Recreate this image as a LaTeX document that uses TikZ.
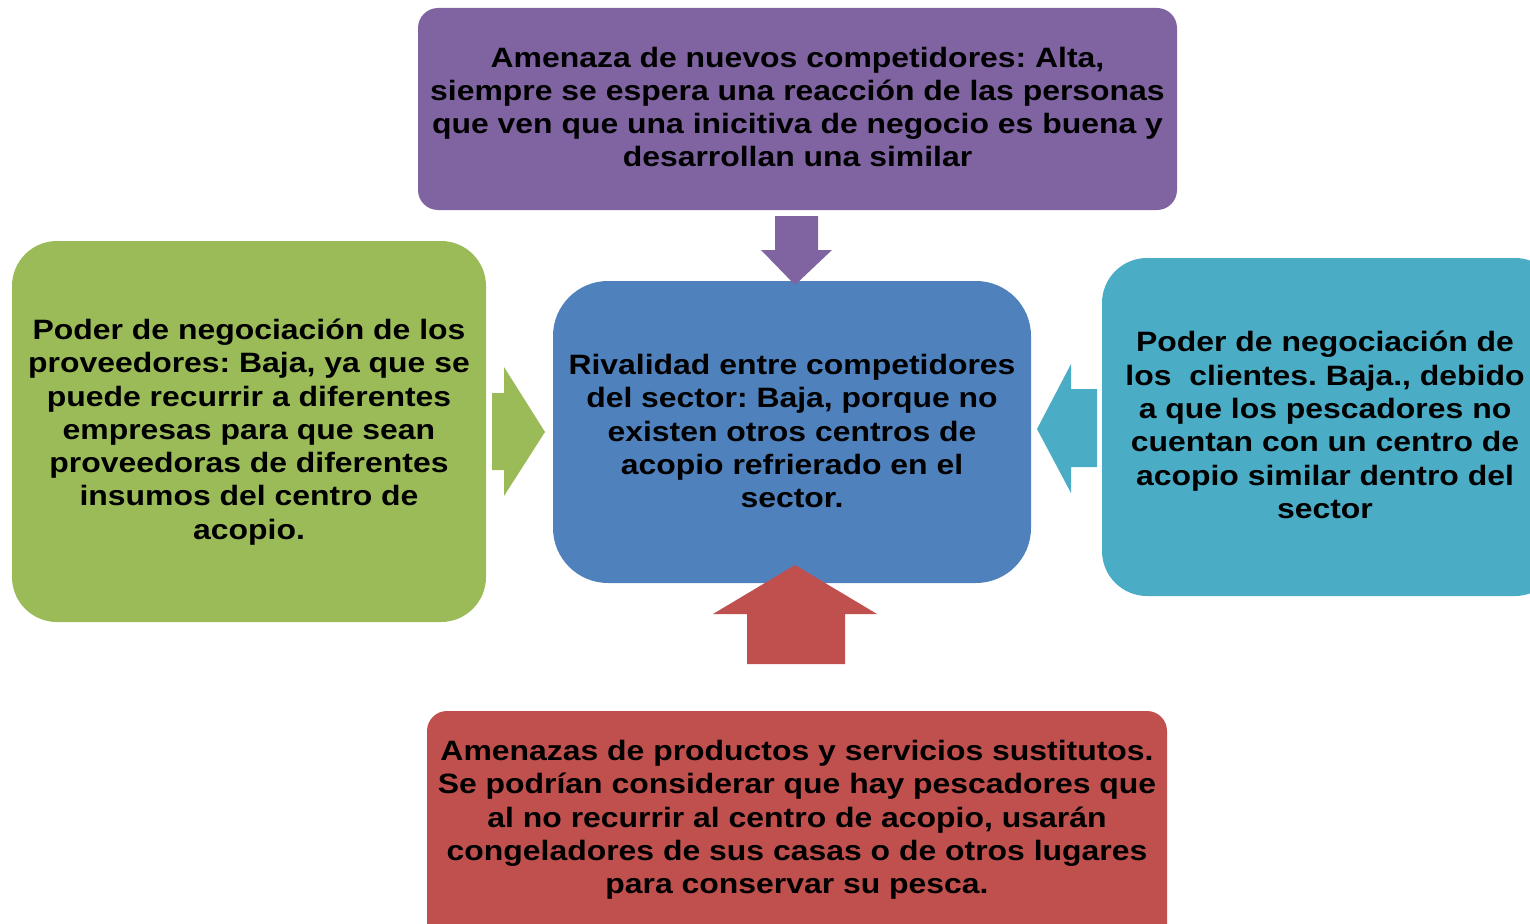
\documentclass[tikz,border=0pt]{standalone}
\usepackage{fontspec}
\setmainfont[FakeStretch=1.14]{Liberation Sans}
\frenchspacing
\definecolor{cpurple}{HTML}{8064A2}
\definecolor{cgreen}{HTML}{9BBB59}
\definecolor{cblue}{HTML}{4F81BD}
\definecolor{cteal}{HTML}{4BACC6}
\definecolor{cred}{HTML}{C0504D}
\begin{document}
\begin{tikzpicture}[x=1pt,y=-1pt,
  box/.style={draw=none,inner sep=0pt,outer sep=0pt},
  txt/.style={align=center,font=\fontsize{28}{33.3}\selectfont\bfseries,text=black,inner sep=0pt}]
\useasboundingbox (0,0) rectangle (1530,923);
\clip (0,0) rectangle (1530,923);
% boxes
\fill[cpurple,rounded corners=20] (418,8) rectangle (1177,210);
\fill[cgreen,rounded corners=45] (12,241) rectangle (486,622);
\fill[cblue,rounded corners=55] (553,281) rectangle (1031,583);
\fill[cteal,rounded corners=45] (1102,258) rectangle (1560,596);
\fill[cred,rounded corners=20] (427,711) rectangle (1167,960);
\node[box] (top) at (797.5,107) {};
\node[box] (left) at (249,432) {};
\node[box] (center) at (792,431) {};
\node[box] (right) at (1325,425) {};
\node[box] (bottom) at (797,820) {};
% arrows
\fill[cpurple] (775,216) -- (818,216) -- (818,250) -- (832,250) -- (795,285) -- (761,250) -- (775,250) -- cycle;
\fill[cgreen] (492,393) -- (504,393) -- (504,367) -- (545,432) -- (504,496) -- (504,470) -- (492,470) -- cycle;
\fill[cteal] (1097,389) -- (1071,389) -- (1071,364) -- (1037,429) -- (1071,493) -- (1071,467) -- (1097,467) -- cycle;
\fill[cred] (747,664) -- (747,614) -- (713,614) -- (795,565) -- (877,614) -- (845,614) -- (845,664) -- cycle;
% texts
\node[txt] at (top) {Amenaza de nuevos competidores: Alta,\\siempre se espera una reacción de las personas\\que ven que una inicitiva de negocio es buena y\\desarrollan una similar};
\node[txt] at (left) {Poder de negociación de los\\proveedores: Baja, ya que se\\puede recurrir a diferentes\\empresas para que sean\\proveedoras de diferentes\\insumos del centro de\\acopio.};
\node[txt] at (center) {Rivalidad entre competidores\\del sector: Baja, porque no\\existen otros centros de\\acopio refrierado en el\\sector.};
\node[txt] at (right) {Poder de negociación de\\los\ \ clientes. Baja., debido\\a que los pescadores no\\cuentan con un centro de\\acopio similar dentro del\\sector};
\node[txt] at (bottom) {Amenazas de productos y servicios sustitutos.\\Se podrían considerar que hay pescadores que\\al no recurrir al centro de acopio, usarán\\congeladores de sus casas o de otros lugares\\para conservar su pesca.};
\end{tikzpicture}
\end{document}
